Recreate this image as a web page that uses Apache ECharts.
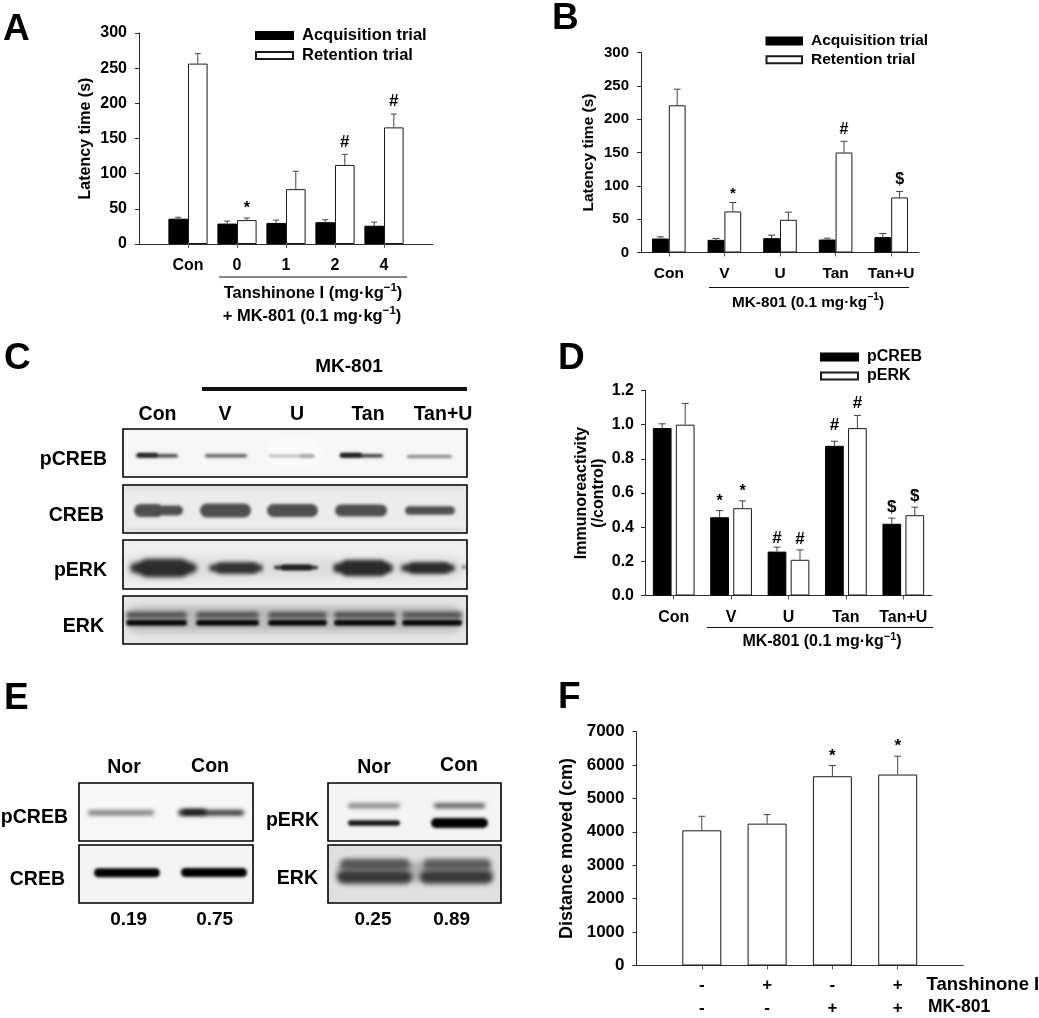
<!DOCTYPE html>
<html>
<head>
<meta charset="utf-8">
<style>html,body{margin:0;padding:0;background:#fff}#c{width:1039px;height:1018px}</style>
<script src="https://cdn.jsdelivr.net/npm/echarts@6/dist/echarts.min.js"></script>
</head>
<body>
<div id="c"></div>
<script>
// ---------- Panel A ----------
const catsA = ['', 'Con', '0', '1', '2', '4', ' '];
const acqA = [36, 29, 30, 31, 26];
const acqErrA = [38, 32.6, 34, 34.5, 31];
const retA = [256.5, 34, 78, 112.4, 165.8];
const retErrA = [270.7, 37, 103.5, 127.5, 184.7];
const sigA = ['', '*', '', '#', '#'];
// ---------- Panel B ----------
const catsB = ['Con', 'V', 'U', 'Tan', 'Tan+U'];
const acqB = [21, 19, 21.5, 19.5, 23];
const acqErrB = [23.5, 21, 26, 21.5, 28.5];
const retB = [220.8, 61.6, 49, 150, 82.6];
const retErrB = [245, 75, 60.6, 166.8, 91.6];
const sigB = ['', '*', '', '#', '$'];
// ---------- Panel D ----------
const catsD = ['Con', 'V', 'U', 'Tan', 'Tan+U'];
const creb = [0.98, 0.458, 0.257, 0.876, 0.42];
const crebErr = [1.005, 0.497, 0.283, 0.903, 0.453];
const erk = [1.0, 0.511, 0.209, 0.98, 0.47];
const erkErr = [1.124, 0.554, 0.267, 1.054, 0.517];
const sigCreb = ['', '*', '#', '#', '$'];
const sigErk = ['', '*', '#', '#', '$'];
// ---------- Panel F ----------
const tanF = ['-', '+', '-', '+'];
const mkF = ['-', '-', '+', '+'];
const distF = [4044, 4244, 5662, 5712];
const distErrF = [4464, 4514, 5982, 6261];
const sigF = ['', '', '*', '*'];
// ---------- Blot panel text ----------
const lanesC = ['Con', 'V', 'U', 'Tan', 'Tan+U'];
const rowsC = ['pCREB', 'CREB', 'pERK', 'ERK'];
const densE = ['0.19', '0.75', '0.25', '0.89'];

const FONT = '"Liberation Sans", Arial, sans-serif';
const INK = '#2b2b2b';

const chart = echarts.init(document.getElementById('c'), null, {renderer: 'canvas'});

function grid(left, top, width, height) { return {left, top, width, height, containLabel: false, show: false, outerBoundsMode: 'none'}; }

function xAx(i, data, size, margin, extra) {
  return Object.assign({
    type: 'category', gridIndex: i, data, boundaryGap: true,
    axisLine: {show: true, onZero: true, lineStyle: {color: INK, width: 1}},
    axisTick: {show: true, length: 4, inside: false, alignWithLabel: true, lineStyle: {color: '#555', width: 1}},
    axisLabel: {show: true, interval: 0, margin, color: '#000', fontFamily: FONT, fontWeight: 'bold', fontSize: size},
    splitLine: {show: false}
  }, extra || {});
}
function yAx(i, max, interval, size, margin, name, nameSize, nameGap, fmt, extra) {
  return Object.assign({
    type: 'value', gridIndex: i, min: 0, max, interval, name, nameLocation: 'middle', nameGap, nameRotate: 90,
    nameTextStyle: {color: '#000', fontFamily: FONT, fontWeight: 'bold', fontSize: nameSize},
    axisLine: {show: true, onZero: false, lineStyle: {color: INK, width: 1}},
    axisTick: {show: true, length: 4, lineStyle: {color: INK, width: 1}},
    axisLabel: {show: true, margin, color: '#000', fontFamily: FONT, fontWeight: 'bold', fontSize: size, formatter: fmt || (v => String(v))},
    splitLine: {show: false}
  }, extra || {});
}
function bars(name, i, vals, width, gap, fill, start) {
  return {
    name, type: 'bar', xAxisIndex: i, yAxisIndex: i, barWidth: width, barGap: gap,
    data: vals.map((v, k) => [k + start, v]), animation: false, z: 2,
    itemStyle: {color: fill, borderColor: fill === '#000' ? '#000' : '#1a1a1a', borderWidth: 1}
  };
}
function errs(i, vals, tops, dx, sig, start, sigSize, cap, nudge) {
  return {
    type: 'custom', xAxisIndex: i, yAxisIndex: i, clip: false, animation: false, z: 3, silent: true,
    encode: {x: 0, y: 1},
    data: tops.map((t, k) => [k + start, t, vals[k]]),
    renderItem(params, api) {
      const top = api.coord([api.value(0), api.value(1)]);
      const base = api.coord([api.value(0), api.value(2)]);
      const x = top[0] + dx;
      const ch = [
        {type: 'line', shape: {x1: x, y1: top[1], x2: x, y2: base[1]}, style: {stroke: '#444', lineWidth: 1}},
        {type: 'line', shape: {x1: x - cap, y1: top[1], x2: x + cap, y2: top[1]}, style: {stroke: '#444', lineWidth: 1}}
      ];
      const s = sig[params.dataIndex];
      if (s) {
        const lift = (s === '*' ? 1 : 4) + (nudge ? nudge[params.dataIndex] : 0);
        ch.push({type: 'text', style: {
          text: s, x: x, y: top[1] - lift, align: 'center', verticalAlign: 'bottom',
          fontFamily: FONT, fontWeight: 'bold', fontSize: s === '*' ? sigSize : sigSize + 1, fill: '#000'
        }});
      }
      return {type: 'group', children: ch};
    }
  };
}
function legend(names, left, top, size, gap, w) {
  return {
    show: true, data: names, orient: 'vertical', left, top, itemWidth: w, itemHeight: 7, itemGap: gap, padding: 0,
    selectedMode: false, icon: 'rect',
    textStyle: {color: '#000', fontFamily: FONT, fontWeight: 'bold', fontSize: size, padding: [0, 0, 0, 4]}
  };
}

// ---------- graphic helpers (photographic blot panels, captions) ----------
const G = [];
function txt(text, x, y, size, align) {
  G.push({type: 'text', silent: true, z: 20, style: {
    text, x, y, align: align || 'center', verticalAlign: 'middle',
    fontFamily: FONT, fontWeight: 'bold', fontSize: size, fill: '#000'
  }});
}
function sup(parts, x, y, size) {
  G.push({type: 'text', silent: true, z: 20, style: {
    text: '{a|' + parts[0] + '}{s|\u22121}{a|' + parts[1] + '}', x, y, align: 'center', verticalAlign: 'middle',
    rich: {
      a: {fontFamily: FONT, fontWeight: 'bold', fontSize: size, lineHeight: 22, fill: '#000'},
      s: {fontFamily: FONT, fontWeight: 'bold', fontSize: size - 5, lineHeight: 10, verticalAlign: 'top', fill: '#000'}
    }
  }});
}
function rule(x1, x2, y, w) {
  G.push({type: 'line', silent: true, z: 20, shape: {x1, y1: y, x2, y2: y}, style: {stroke: '#111', lineWidth: w}});
}
function panel(x, y, w, h, bg) {
  G.push({type: 'rect', silent: true, z: 5, shape: {x, y, width: w, height: h}, style: {fill: bg}});
  G.push({type: 'rect', silent: true, z: 9, shape: {x, y, width: w, height: h}, style: {fill: 'none', stroke: '#000', lineWidth: 1.6}});
}
const OFF = 3000;
function band(x0, x1, yc, h, c, blur) {
  // only the blurred shadow of an off-page shape is visible: soft-edged film band
  G.push({type: 'rect', silent: true, z: 6,
    shape: {x: x0 - OFF, y: yc - h / 2, width: x1 - x0, height: h, r: h / 2},
    style: {fill: c, shadowBlur: blur === undefined ? 3 : blur, shadowColor: c, shadowOffsetX: OFF}});
}

// Panel letters
txt('A', 3, 30, 37, 'left'); txt('B', 552, 19, 37, 'left'); txt('C', 4, 359, 37, 'left');
txt('D', 558, 359, 37, 'left'); txt('E', 4, 699, 37, 'left'); txt('F', 558, 698, 37, 'left');

// Panel A / B / D captions
rule(219, 407, 277, 1);
sup(['Tanshinone I (mg\u00b7kg', ')'], 313, 293, 16.5);
sup(['+ MK-801 (0.1 mg\u00b7kg', ')'], 312, 316, 16.5);
rule(709, 909, 287.5, 1);
sup(['MK-801 (0.1 mg\u00b7kg', ')'], 808, 303, 15.3);
rule(707, 933, 627.5, 1);
sup(['MK-801 (0.1 mg\u00b7kg', ')'], 822, 642, 16);

// Panel C
txt('MK-801', 349, 367, 19);
rule(202, 467, 389, 4);
const laneXC = [157.5, 225, 297, 368, 443];
lanesC.forEach((t, i) => txt(t, laneXC[i], 415, 19.5));
const rowYC = [460, 516, 571, 627];
const rowRC = [107, 104, 107, 104];
rowsC.forEach((t, i) => txt(t, rowRC[i], rowYC[i], 19.5, 'right'));

panel(123, 429, 344, 48, '#f6f6f6');
band(268, 322, 452, 28, '#fafafa', 3);
band(136, 178, 455.7, 3.5, '#444', 3);
band(137, 158, 455, 4, '#222', 3);
band(205, 247, 455.7, 3.5, '#5c5c5c', 3);
band(269, 314, 456, 2.5, '#b4b4b4', 3);
band(300, 314, 456, 2.5, '#999', 3);
band(340, 383, 455.7, 3.5, '#3a3a3a', 3);
band(340, 362, 455, 4, '#1c1c1c', 3);
band(407, 452, 456.5, 3, '#808080', 3);

panel(123, 485, 344, 48, '#ececec');
band(125, 465, 487, 4, '#d8d8d8', 4);
band(125, 465, 531, 4, '#d8d8d8', 4);
band(134, 164, 510.5, 13, '#4f4f4f', 3);
band(160, 183, 510.5, 10, '#4f4f4f', 3);
band(200, 251, 510.5, 14, '#4f4f4f', 3);
band(267, 318, 510.5, 13, '#4f4f4f', 3);
band(335, 387, 510.5, 12, '#4f4f4f', 3);
band(405, 455, 510.5, 8.5, '#4f4f4f', 3);

panel(123, 540, 344, 49, '#efefef');
band(125, 465, 568, 22, '#dedede', 8);
band(130, 197, 568, 10, '#2c2c2c', 5);
band(138, 190, 568, 18, '#2c2c2c', 5);
band(209, 263, 568, 7, '#333', 4);
band(216, 258, 568, 11, '#333', 4);
band(274, 318, 567.5, 3.5, '#222', 3);
band(281, 312, 567.5, 5.5, '#222', 3);
band(333, 393, 568, 9, '#2a2a2a', 4);
band(340, 388, 568, 16, '#2a2a2a', 4);
band(401, 455, 568, 7, '#2c2c2c', 4);
band(408, 450, 568, 11, '#2c2c2c', 4);
band(462, 466, 567, 4, '#666', 3);

panel(123, 596, 344, 48, '#e6e6e6');
band(126, 464, 619, 26, '#bcbcbc', 7);
[[126, 187], [196, 259], [268, 327], [334, 396], [402, 462]].forEach(r => {
  band(r[0], r[1], 615, 6, '#4a4a4a', 4);
  band(r[0], r[1], 622.7, 6, '#060606', 3);
});

// Panel E
txt('Nor', 124, 768, 19.5); txt('Con', 210, 766.5, 19.5);
txt('Nor', 374, 768, 19.5); txt('Con', 459, 766, 19.5);
txt('pCREB', 68, 818, 19.5, 'right'); txt('CREB', 65, 880, 19.5, 'right');
txt('pERK', 319, 821, 19.5, 'right'); txt('ERK', 318, 879, 19.5, 'right');
const densX = [128.7, 214.7, 373, 451.7];
densE.forEach((t, i) => txt(t, densX[i], 920, 19));

panel(79, 783, 174, 58, '#f7f7f7');
band(88, 154, 812.7, 5, '#787878', 4);
band(178, 244, 812.7, 5.5, '#333', 4);
band(182, 206, 812, 5, '#111', 4);
panel(79, 845, 174, 58, '#f4f4f4');
band(94, 160, 872.7, 9, '#000', 3);
band(181, 247, 872.5, 9, '#000', 3);

panel(328, 783, 173, 58, '#f4f4f4');
band(348, 400, 805.7, 4.5, '#777', 4);
band(434, 485, 805.7, 4.5, '#4a4a4a', 4);
band(348, 400, 823, 5.5, '#111', 3);
band(431, 488, 823, 10, '#000', 3);
panel(328, 845, 173, 58, '#e0e0e0');
band(336, 493, 872, 20, '#b0b0b0', 6);
band(340, 410, 864.5, 11, '#555', 5);
band(423, 491, 864.5, 11, '#5c5c5c', 5);
band(337, 412, 877, 13, '#383838', 5);
band(420, 493, 877, 13, '#383838', 5);

// Panel F row captions
txt('Tanshinone I', 926.5, 985, 18.5, 'left');
txt('MK-801', 928, 1007, 17.5, 'left');

const labelsF = ['', ...tanF.map((t, i) => t + '\n' + mkF[i]), ' '];

const option = {
  backgroundColor: '#fff',
  animation: false,
  grid: [grid(139, 33, 294, 211), grid(641, 52.5, 278, 200), grid(645, 390.5, 287, 205), grid(636.5, 731.5, 326.5, 234)],
  legend: [
    legend(['Acquisition trial', 'Retention trial'], 255, 27, 16.5, 3, 37),
    legend(['Acquisition trial', 'Retention trial'], 765.5, 33, 15.5, 2.8, 35.5),
    legend(['pCREB', 'pERK'], 820, 349, 16, 3, 37)
  ],
  xAxis: [
    xAx(0, catsA, 16, 14, {boundaryGap: false, axisTick: {show: true, length: 4, interval: (i, v) => v.trim() !== '', lineStyle: {color: '#555', width: 1}}}),
    xAx(1, catsB, 15.5, 13),
    xAx(2, catsD, 16, 14),
    xAx(3, labelsF, 17, 12, {
      boundaryGap: false,
      axisTick: {show: true, length: 4, interval: (i, v) => v.trim() !== '', lineStyle: {color: '#555', width: 1}},
      axisLabel: {show: true, interval: 0, margin: 8, color: '#000', fontFamily: FONT, fontWeight: 'bold', fontSize: 17, lineHeight: 23}
    })
  ],
  yAxis: [
    yAx(0, 300, 50, 16, 12, 'Latency time (s)', 16, 45),
    yAx(1, 300, 50, 15, 12, 'Latency time (s)', 15.5, 44),
    yAx(2, 1.2, 0.2, 16, 11, 'Immunoreactivity\n(/control)', 16, 38, v => v.toFixed(1), {nameTextStyle: {color: '#000', fontFamily: FONT, fontWeight: 'bold', fontSize: 16, lineHeight: 17}}),
    yAx(3, 7000, 1000, 17, 12, 'Distance moved (cm)', 18, 60)
  ],
  series: [
    bars('Acquisition trial', 0, acqA, 19.6, '0%', '#000', 1),
    bars('Retention trial', 0, retA, 19.6, '0%', '#fff', 1),
    errs(0, acqA, acqErrA, -9.8, acqErrA.map(() => ''), 1, 16, 3),
    errs(0, retA, retErrA, 9.8, sigA, 1, 16, 3),

    bars('Acquisition trial', 1, acqB, 16.8, '0%', '#000', 0),
    bars('Retention trial', 1, retB, 16.8, '0%', '#fff', 0),
    errs(1, acqB, acqErrB, -8.4, acqErrB.map(() => ''), 0, 15, 3.5),
    errs(1, retB, retErrB, 8.4, sigB, 0, 15, 3.5),

    bars('pCREB', 2, creb, 18.7, '23%', '#000', 0),
    bars('pERK', 2, erk, 18.7, '23%', '#fff', 0),
    errs(2, creb, crebErr, -11.5, sigCreb, 0, 16, 3.5, [0, 0, -4, 3, -2]),
    errs(2, erk, erkErr, 11.5, sigErk, 0, 16, 3.5, [0, 0, -2, 0, -2]),

    bars('Distance moved', 3, distF, 39, '0%', '#fff', 1),
    errs(3, distF, distErrF, 0, sigF, 1, 17, 3.5)
  ],
  graphic: {elements: G}
};
chart.setOption(option);
</script>
</body>
</html>
